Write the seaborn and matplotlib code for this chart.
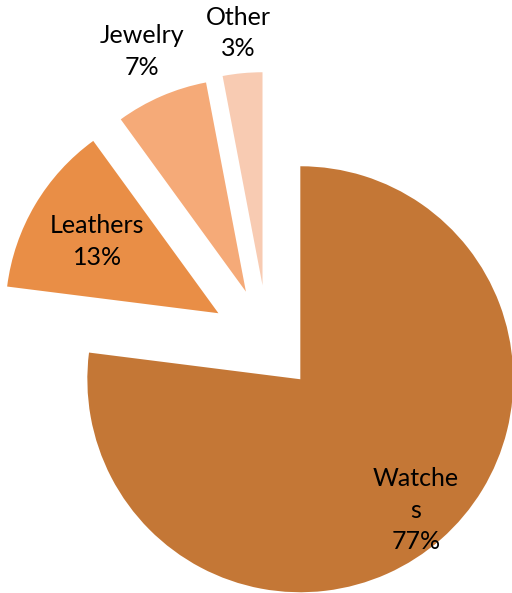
import numpy as np
import matplotlib
matplotlib.use('Agg')
import matplotlib.pyplot as plt
import seaborn as sns

# Product share data
categories = ['Watches', 'Leathers', 'Jewelry', 'Other']
shares = [77, 13, 7, 3]
label_texts = ['Watche\ns\n77%', 'Leathers\n13%', 'Jewelry\n7%', 'Other\n3%']

colors = sns.color_palette(['#C47736', '#E98E46', '#F5AA78', '#F8CBB2'])
explode = [0.23, 0.27, 0.26, 0.27]
label_radius = [0.82, 0.66, 1.23, 1.19]

sns.set_theme(style='white')
plt.rcParams['font.family'] = ['Lato', 'DejaVu Sans']

fig = plt.figure(figsize=(5.12, 5.93), dpi=100)
ax = fig.add_axes([0, 0, 1, 1])

wedges, _ = ax.pie(shares, explode=explode, colors=colors, startangle=90,
                   counterclock=False, radius=1.0,
                   wedgeprops=dict(linewidth=0))

# Place labels along each wedge's bisector
for w, txt, r in zip(wedges, label_texts, label_radius):
    mid = np.deg2rad((w.theta1 + w.theta2) / 2)
    cx, cy = w.center
    ax.text(cx + r * np.cos(mid), cy + r * np.sin(mid), txt,
            ha='center', va='center', fontsize=18, color='black',
            linespacing=1.45)

ax.set_xlim(-1.258, 1.146)
ax.set_ylim(-1.176, 1.608)
ax.set_aspect('auto')
ax.axis('off')

fig.savefig('out.png', dpi=100)
